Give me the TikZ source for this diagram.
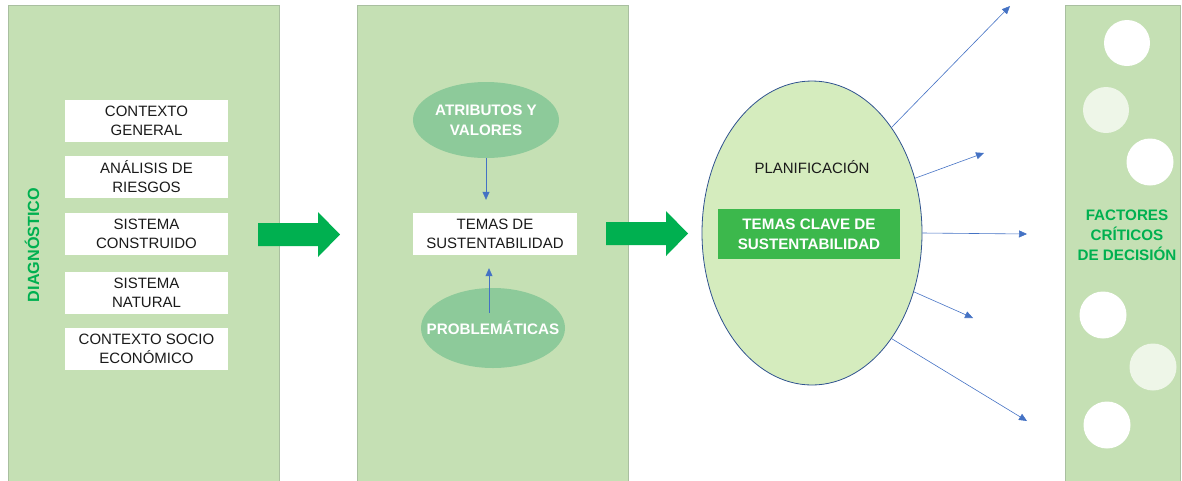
\documentclass[tikz,border=0pt]{standalone}
\usepackage{fontspec}
\setmainfont{Liberation Sans}
\usetikzlibrary{shapes.geometric,arrows.meta}
\definecolor{panelgreen}{HTML}{C5E0B4}
\definecolor{panelborder}{HTML}{A9BFA0}
\definecolor{ovalgreen}{HTML}{8DCA9A}
\definecolor{bigfill}{HTML}{D5ECBE}
\definecolor{bigborder}{HTML}{2F528F}
\definecolor{keygreen}{HTML}{3CB84C}
\definecolor{arrowgreen}{HTML}{00B050}
\definecolor{txtgreen}{HTML}{00B050}
\definecolor{blueline}{HTML}{4472C4}
\definecolor{lightdot}{HTML}{EEF6E8}
\definecolor{darktxt}{HTML}{1A1A1A}
\tikzset{
  panel/.style={fill=panelgreen, draw=panelborder, line width=0.5pt, anchor=north west, inner sep=0pt},
  wbox/.style={fill=white, minimum width=163pt, minimum height=42pt, inner sep=0pt, align=center,
    text=darktxt, font=\fontsize{15}{19}\selectfont},
  oval/.style={ellipse, fill=ovalgreen, inner sep=0pt},
  ovaltxt/.style={text=white, align=center, font=\bfseries\fontsize{15.2}{20}\selectfont},
  greentxt/.style={text=txtgreen, align=center, font=\bfseries\fontsize{15.2}{20}\selectfont},
  bigarrow/.style={fill=arrowgreen},
  bluearrow/.style={draw=blueline, line width=0.6pt, -{Triangle[length=8pt,width=7pt]}},
  dotw/.style={circle, fill=white, inner sep=0pt, minimum size=47pt},
  dotl/.style={circle, fill=lightdot, inner sep=0pt, minimum size=47pt}
}
\begin{document}
\begin{tikzpicture}[x=1pt,y=-1pt]
\useasboundingbox (0,0) rectangle (1182,480);
% panels
\node[panel, minimum width=271pt, minimum height=480pt] (p1) at (8,5) {};
\node[panel, minimum width=271pt, minimum height=480pt] (p2) at (357,5) {};
\node[panel, minimum width=115pt, minimum height=480pt] (p3) at (1065,5) {};

% panel 1
\node[greentxt, rotate=90, font=\bfseries\fontsize{16.2}{20}\selectfont] (diag) at (32,245) {DIAGNÓSTICO};
\node[wbox] (b1) at (146.5,121) {CONTEXTO\\GENERAL};
\node[wbox] (b2) at (146.5,177) {ANÁLISIS DE\\RIESGOS};
\node[wbox] (b3) at (146.5,234) {SISTEMA\\CONSTRUIDO};
\node[wbox] (b4) at (146.5,292.5) {SISTEMA\\NATURAL};
\node[wbox] (b5) at (146.5,349) {CONTEXTO SOCIO\\ECONÓMICO};

% big arrows
\fill[bigarrow] (258,223) -- (318,223) -- (318,212) -- (340,234.5) -- (318,257) -- (318,246) -- (258,246) -- cycle;
\fill[bigarrow] (606,222) -- (666,222) -- (666,211) -- (688,233.5) -- (666,256) -- (666,245) -- (606,245) -- cycle;

% panel 2
\node[oval, minimum width=146pt, minimum height=76pt] (atr) at (486,120) {};
\node[ovaltxt] (atrtxt) at (atr.center) {ATRIBUTOS Y\\VALORES};
\node[oval, minimum width=144pt, minimum height=80pt] (prob) at (493,328) {};
\node[ovaltxt] (probtxt) at (prob.center) {PROBLEMÁTICAS};
\node[wbox, minimum width=164pt] (temas) at (495,234) {TEMAS DE\\SUSTENTABILIDAD};
\draw[bluearrow, shorten >=13pt] (atr.south) -- (atr.south |- temas.north);
\draw[bluearrow, shorten >=13pt] ([xshift=-4pt,yshift=-25pt]prob.north) -- ([xshift=-4pt]prob.north |- temas.south);

% planning ellipse
\node[ellipse, fill=bigfill, draw=bigborder, line width=0.8pt, minimum width=220pt, minimum height=304pt, inner sep=0pt] (plan) at (812,233) {};
\node[text=darktxt, font=\fontsize{15}{19}\selectfont] (plantxt) at (812,167) {PLANIFICACIÓN};
\node[fill=keygreen, minimum width=182pt, minimum height=50pt, inner sep=0pt, text=white, align=center,
  font=\bfseries\fontsize{15.2}{20}\selectfont] (clave) at (809,234) {TEMAS CLAVE DE\\SUSTENTABILIDAD};

\coordinate (e1) at (1010,6);
\coordinate (e2) at (984,153);
\coordinate (e3) at (1027,234);
\coordinate (e4) at (973,318);
\coordinate (e5) at (1027,421);
\draw[bluearrow] (plan.53.5) -- (e1);
\draw[bluearrow] (plan.28.5) -- (e2);
\draw[bluearrow] (plan.-0.5) -- (e3);
\draw[bluearrow] (plan.-30.2) -- (e4);
\draw[bluearrow] (plan.-53.7) -- (e5);

% panel 3
\node[dotw, minimum size=46pt] (c1) at (1127,43) {};
\node[dotl, minimum size=46pt] (c2) at (1106,110) {};
\node[dotw] (c3) at (1150,162) {};
\node[dotw] (c4) at (1103,315) {};
\node[dotl] (c5) at (1153,367) {};
\node[dotw] (c6) at (1107,425) {};
\node[greentxt] (fcd) at (1127,235) {FACTORES\\CRÍTICOS\\DE DECISIÓN};
\end{tikzpicture}
\end{document}
